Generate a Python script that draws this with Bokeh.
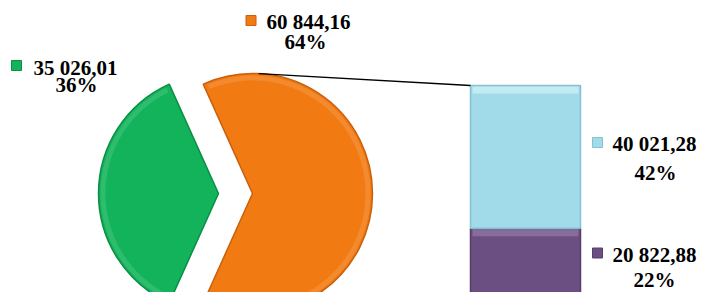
import math
from bokeh.plotting import figure
from bokeh.models import Range1d
from bokeh.core.properties import value
from bokeh.embed import file_html
from bokeh.resources import INLINE

# ---- data ----
pie_names = ["Группа 1", "Прочие"]
pie_values = [35026.01, 60844.16]
pie_pct_labels = ["36%", "64%"]
bar_names = ["Прочие 2", "Прочие 1"]          # bottom -> top
bar_values = [20822.88, 40021.28]
bar_pct_labels = ["22%", "42%"]
pie_colors = ["#12B35A", "#F27A12"]
pie_edges = ["#0B8E45", "#C9600C"]
bar_colors = ["#6B4F82", "#A1DAE8"]
bar_edges = ["#56406A", "#84C2D2"]
bar_tops_light = ["#8C72A3", "#C8EDF5"]

total = sum(pie_values)


def fmt(v):
    return f"{v:,.2f}".replace(",", " ").replace(".", ",")


# ---- layout (image pixel coordinates, y downwards) ----
W, H = 698, 292
p = figure(width=W, height=H, x_range=Range1d(0, W), y_range=Range1d(H, 0),
           output_backend="svg", toolbar_location=None,
           x_axis_location=None, y_axis_location=None, min_border=0)
p.grid.visible = False
p.outline_line_color = None
p.background_fill_color = "white"
p.border_fill_color = "white"

R = 120
CY = 193
centers_x = [218, 252]

# pie: green slice centred on the left, "other" slice on the right
spans = [v / total * 360 for v in pie_values]
starts = [180 - spans[0] / 2, -spans[1] / 2]
ends = [180 + spans[0] / 2, spans[1] / 2]
for cx, s, e, fc, lc in zip(centers_x, starts, ends, pie_colors, pie_edges):
    p.wedge(x=cx, y=CY, radius=R, start_angle=s, end_angle=e,
            start_angle_units="deg", end_angle_units="deg",
            direction="anticlock", fill_color=fc, line_color=lc, line_width=1.5)
    # soft bevel near the rim
    p.annular_wedge(x=cx, y=CY, inner_radius=R - 7, outer_radius=R - 2,
                    start_angle=s + 2, end_angle=e - 2,
                    start_angle_units="deg", end_angle_units="deg",
                    direction="anticlock", fill_color="white", fill_alpha=0.12,
                    line_color=None)

# bar (stacked) on its own value range: bottom of bar at y=302, top at y=85
BAR_BOTTOM, BAR_TOP = 302, 85
bar_total = sum(bar_values)
upp = bar_total / (BAR_BOTTOM - BAR_TOP)
p.extra_y_ranges = {"bar": Range1d(start=(BAR_BOTTOM - H) * upp, end=BAR_BOTTOM * upp)}

BAR_X0, BAR_X1 = 470, 580
bottoms = [0, bar_values[0]]
tops = [bar_values[0], bar_values[0] + bar_values[1]]
p.quad(left=BAR_X0, right=BAR_X1, bottom=bottoms, top=tops, fill_color=bar_colors,
       line_color=bar_edges, line_width=1.5, y_range_name="bar")
# bevel highlight at the top of each segment
p.quad(left=BAR_X0 + 2, right=BAR_X1 - 2, bottom=[t - 8 * upp for t in tops],
       top=[t - 1 * upp for t in tops], fill_color=bar_tops_light,
       line_color=None, fill_alpha=0.85, y_range_name="bar")

# connector lines from the "other" slice to the bar
a = math.radians(87)
x_top = centers_x[1] + R * math.cos(a)
p.segment(x0=[x_top, x_top], y0=[CY - R * math.sin(a), CY + R * math.sin(a)],
          x1=[BAR_X0, BAR_X0], y1=[BAR_TOP, BAR_BOTTOM], line_color="black", line_width=1.3)

# labels
font = value("Liberation Serif")
lab_sq_x = [16, 250.5, 597, 597]
lab_sq_y = [65, 20, 142, 252.5]
lab1_x = [33, 266, 612, 612]
lab1_y = [67, 21.5, 143, 254.5]
lab2_x = [76, 305, 655, 654]
lab2_y = [84, 41, 172.5, 279.5]
all_vals = [pie_values[0], pie_values[1], bar_values[1], bar_values[0]]
all_pcts = [pie_pct_labels[0], pie_pct_labels[1], bar_pct_labels[1], bar_pct_labels[0]]
sq_colors = [pie_colors[0], pie_colors[1], bar_colors[1], bar_colors[0]]
sq_edges = [pie_edges[0], pie_edges[1], bar_edges[1], bar_edges[0]]

p.scatter(x=lab_sq_x, y=lab_sq_y, marker="square", size=10, fill_color=sq_colors,
          line_color=sq_edges, line_width=1)
p.text(x=lab1_x, y=lab1_y, text=[fmt(v) for v in all_vals], text_font=font,
       text_font_style="bold", text_font_size="21px", text_baseline="middle",
       text_align="left", text_color="black")
p.text(x=lab2_x, y=lab2_y, text=all_pcts, text_font=font,
       text_font_style="bold", text_font_size="21px", text_baseline="middle",
       text_align="center", text_color="black")

open("out.html", "w").write(file_html(p, INLINE))
